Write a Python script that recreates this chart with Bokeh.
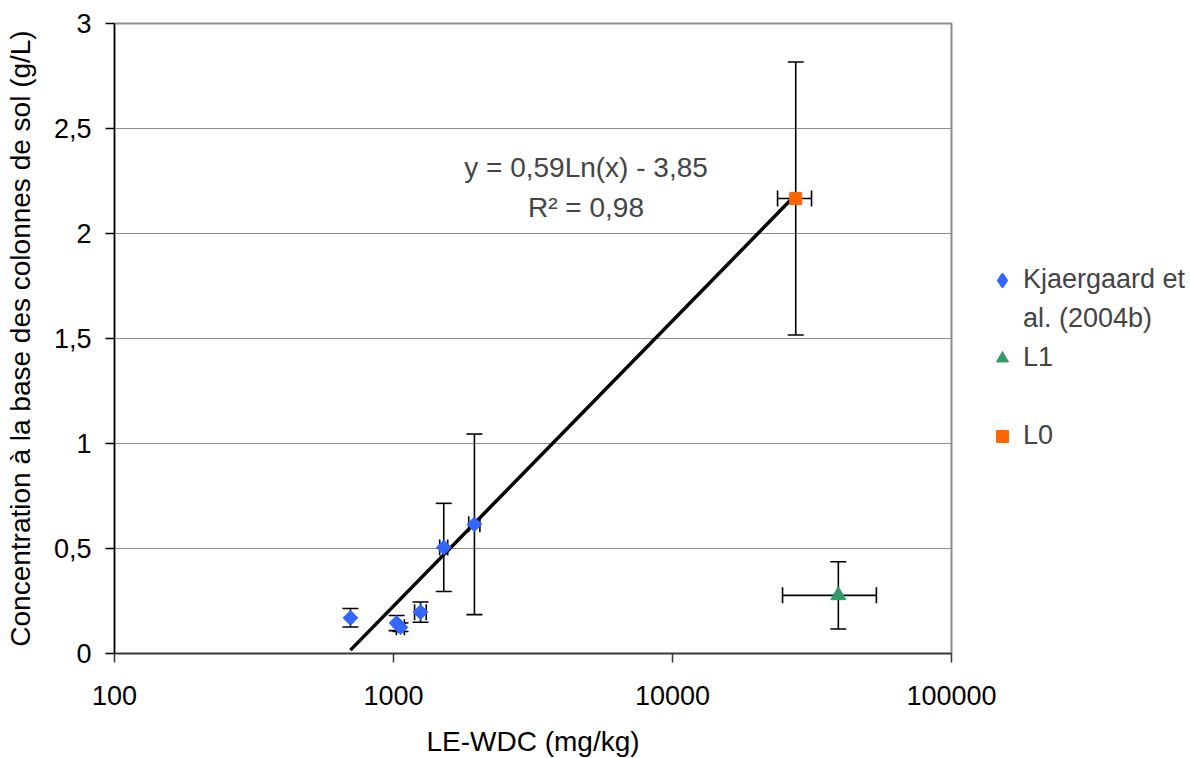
import math
from bokeh.plotting import figure
from bokeh.models import (ColumnDataSource, Whisker, TeeHead, FixedTicker,
                          Legend, LegendItem, Label)
from bokeh.embed import file_html
from bokeh.resources import INLINE

# ---------------- data ----------------
kj_x = [701, 1026, 1059, 1250, 1514, 1950]
kj_y = [0.17, 0.145, 0.125, 0.197, 0.505, 0.615]
kj_yerr = [0.044, 0.036, 0.02, 0.048, 0.21, 0.43]
kj_xerr = [0, 0, 35, 60, 50, 90]

l1_x = [39300]
l1_y = [0.277]
l1_yerr = [0.16]
l1_xerr = [14500]

l0_x = [27650]
l0_y = [2.167]
l0_yerr = [0.65]
l0_xerr = [3850]

fit_a = 0.59
fit_b = -3.85
fit_x = [701, 27650]

x_ticks = [100, 1000, 10000, 100000]
x_tick_labels = ["100", "1000", "10000", "100000"]
y_ticks = [0, 0.5, 1, 1.5, 2, 2.5, 3]
y_tick_labels = ["0", "0,5", "1", "1,5", "2", "2,5", "3"]

eq_text = "y = 0,59Ln(x) - 3,85"
r2_text = "R² = 0,98"

FONT = "Liberation Sans"
FS_TICK = "27px"
FS_TITLE = "28px"
BLUE = "#3366FF"
GREEN = "#339966"
ORANGE = "#FF6600"

p = figure(x_axis_type="log", x_range=(100, 100000), y_range=(0, 3),
           frame_width=837, frame_height=630,
           min_border_left=114, min_border_right=239,
           min_border_top=23, min_border_bottom=105,
           output_backend="svg", toolbar_location=None)
p.background_fill_color = "white"
p.border_fill_color = "white"
p.outline_line_color = "#8c8c8c"
p.outline_line_width = 2

# axes
p.xaxis.ticker = FixedTicker(ticks=x_ticks)
p.xaxis.major_label_overrides = {t: l for t, l in zip(x_ticks, x_tick_labels)}
p.yaxis.ticker = FixedTicker(ticks=y_ticks)
p.yaxis.major_label_overrides = {t: l for t, l in zip(y_ticks, y_tick_labels)}
for ax in (p.xaxis[0], p.yaxis[0]):
    ax.major_tick_in = 0
    ax.major_tick_out = 9
    ax.minor_tick_in = 0
    ax.minor_tick_out = 0
    ax.major_label_text_font = FONT
    ax.major_label_text_font_size = FS_TICK
    ax.major_label_text_color = "black"
    ax.axis_label_text_font = FONT
    ax.axis_label_text_font_size = FS_TITLE
    ax.axis_label_text_font_style = "normal"
    ax.axis_label_text_color = "black"
    ax.axis_line_width = 1.5
    ax.major_tick_line_width = 1.5
p.xaxis.axis_line_color = "#333333"
p.xaxis.major_tick_line_color = "#333333"
p.yaxis.axis_line_color = "black"
p.xaxis.axis_label = "LE-WDC (mg/kg)"
p.yaxis.axis_label = "Concentration à la base des colonnes de sol (g/L)"
p.xaxis.major_label_standoff = 23
p.yaxis.major_label_standoff = 14
p.xaxis.axis_label_standoff = 18
p.yaxis.axis_label_standoff = 15

p.xgrid.visible = False
p.ygrid.grid_line_color = "#8c8c8c"
p.ygrid.grid_line_width = 1.2


def add_errors(xs, ys, xerr, yerr):
    sy = ColumnDataSource(dict(base=xs,
                               lower=[y - e for y, e in zip(ys, yerr)],
                               upper=[y + e for y, e in zip(ys, yerr)]))
    w = Whisker(source=sy, base="base", lower="lower", upper="upper",
                dimension="height", line_color="black", line_width=1.6,
                upper_head=TeeHead(size=16, line_color="black", line_width=1.6),
                lower_head=TeeHead(size=16, line_color="black", line_width=1.6),
                level="underlay")
    p.add_layout(w)
    idx = [i for i, e in enumerate(xerr) if e > 0]
    if idx:
        sx = ColumnDataSource(dict(base=[ys[i] for i in idx],
                                   lower=[xs[i] - xerr[i] for i in idx],
                                   upper=[xs[i] + xerr[i] for i in idx]))
        wx = Whisker(source=sx, base="base", lower="lower", upper="upper",
                     dimension="width", line_color="black", line_width=1.6,
                     upper_head=TeeHead(size=16, line_color="black", line_width=1.6),
                     lower_head=TeeHead(size=16, line_color="black", line_width=1.6),
                     level="underlay")
        p.add_layout(wx)


add_errors(kj_x, kj_y, kj_xerr, kj_yerr)
add_errors(l1_x, l1_y, l1_xerr, l1_yerr)
add_errors(l0_x, l0_y, l0_xerr, l0_yerr)

# trendline
fit_y = [fit_a * math.log(x) + fit_b for x in fit_x]
p.line(fit_x, fit_y, line_color="black", line_width=3.5)

kj_r = p.scatter(kj_x, kj_y, marker="square", angle=math.pi / 4, size=10.5,
                 fill_color=BLUE, line_color=BLUE)
l1_r = p.scatter(l1_x, l1_y, marker="triangle", size=15,
                 fill_color=GREEN, line_color=GREEN)
l0_r = p.scatter(l0_x, l0_y, marker="square", size=12,
                 fill_color=ORANGE, line_color=ORANGE)
# legend-only renderers (a single NaN point, never drawn in the plot)
nan = float("nan")
kj_leg = p.scatter([nan], [nan], marker="diamond", fill_color=BLUE,
                   line_color=BLUE, line_width=3, line_join="round")
dummy = p.scatter([nan], [nan], marker="square", fill_alpha=0, line_alpha=0)

# equation labels (data coords)
eq_xpos = 4898
p.add_layout(Label(x=eq_xpos, y=2.314, text=eq_text, text_align="center",
                   text_baseline="middle", text_font=FONT,
                   text_font_size=FS_TITLE))
p.add_layout(Label(x=eq_xpos, y=2.124, text=r2_text, text_align="center",
                   text_baseline="middle", text_font=FONT,
                   text_font_size=FS_TITLE))

legend = Legend(
    items=[LegendItem(label="Kjaergaard et", renderers=[kj_leg]),
           LegendItem(label="al. (2004b)", renderers=[dummy]),
           LegendItem(label="L1", renderers=[l1_r]),
           LegendItem(label=" ", renderers=[dummy]),
           LegendItem(label="L0", renderers=[l0_r])],
    location=(36, 198), glyph_width=30, glyph_height=30,
    label_height=39, spacing=0, padding=0, margin=0,
    label_standoff=6, label_text_font=FONT,
    label_text_font_size=FS_TICK, border_line_alpha=0,
    background_fill_alpha=0)
p.add_layout(legend, "right")

open("out.html", "w").write(file_html(p, INLINE))
